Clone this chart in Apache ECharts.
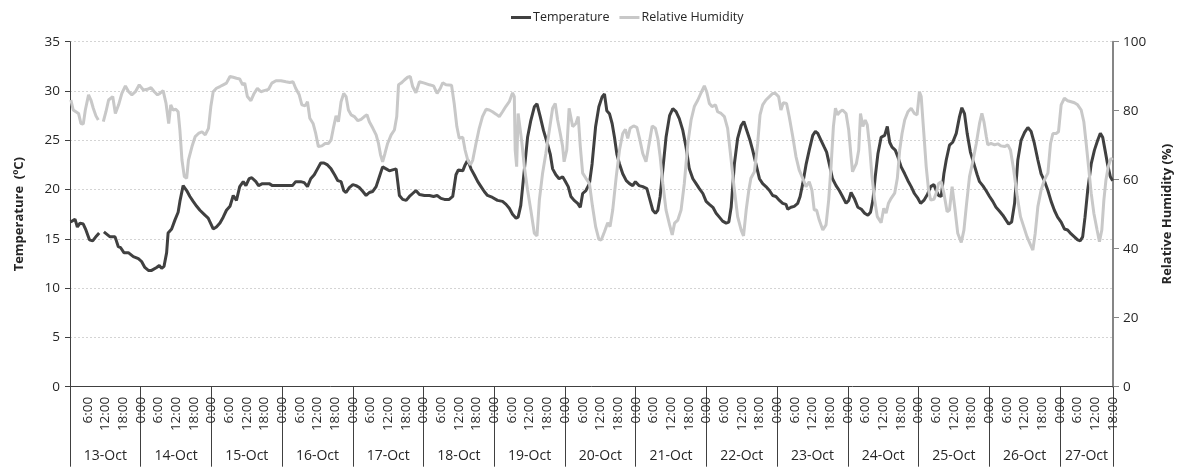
<!DOCTYPE html>
<html>
<head>
<meta charset="utf-8">
<script src="https://cdn.jsdelivr.net/npm/echarts@6/dist/echarts.min.js"></script>
<style>
html,body{margin:0;padding:0;background:#fff;}
#chart{width:1182px;height:469px;}
</style>
</head>
<body>
<div id="chart"></div>
<script>
// Dates (one per day, starting 13-Oct 0:00)
const dates = ['13-Oct','14-Oct','15-Oct','16-Oct','17-Oct','18-Oct','19-Oct','20-Oct','21-Oct','22-Oct','23-Oct','24-Oct','25-Oct','26-Oct','27-Oct'];
// Hour tick labels (hours since 13-Oct 0:00)
const hourTicks = [];
for (let h = 6; h <= 354; h += 6) hourTicks.push(h);
const dayBounds = [0,24,48,72,96,120,144,168,192,216,240,264,288,312,336,354];
const dayLabelPos = [12,36,60,84,108,132,156,180,204,228,252,276,300,324,345];

// Temperature (°C): hours since 13-Oct 0:00 and values
const tempHours = [0.2,1.7,2.5,3.4,4.5,5.4,6.6,7.7,9.0,9.9,10.7,11.5,13.6,15.3,16.4,17.2,18.3,19.8,21.5,23.2,24.3,25.4,26.6,27.7,29.4,30.3,31.1,31.9,32.8,33.3,34.5,35.6,36.7,37.3,38.4,39.6,40.7,41.8,43.0,44.1,45.8,46.9,47.7,48.6,49.7,50.9,52.0,53.1,54.3,55.4,56.5,57.6,58.8,59.7,60.8,61.7,63.1,64.0,65.3,67.6,68.7,71.0,73.2,75.5,76.6,78.3,79.5,80.6,81.7,82.9,84.0,85.1,86.2,87.4,88.6,89.8,90.9,92.0,92.9,93.7,94.8,96.0,97.1,98.2,99.4,100.5,101.6,102.7,103.9,105.0,106.1,107.3,108.4,109.5,110.7,111.8,112.9,114.1,115.2,116.3,117.4,118.6,120.3,122.0,123.4,124.6,125.9,127.1,128.7,129.9,131.0,131.8,133.3,134.1,135.0,136.1,137.2,138.4,139.5,140.6,141.7,143.4,145.1,146.8,148.0,149.1,150.2,151.4,152.1,153.0,154.2,155.3,156.4,157.6,158.5,159.6,160.7,161.9,163.0,163.8,164.9,166.0,167.2,168.0,169.1,170.0,171.1,172.3,173.2,174.0,175.1,176.3,177.2,178.4,179.5,180.6,181.4,182.2,183.1,184.0,184.8,185.6,186.5,187.6,188.8,189.9,191.0,191.9,193.1,194.4,195.8,196.7,197.8,198.7,199.5,200.3,201.2,202.3,203.5,204.6,205.7,206.8,208.0,209.1,210.2,211.4,212.5,213.6,214.8,215.9,217.0,218.2,219.3,220.4,221.5,222.7,223.6,224.4,225.5,226.6,227.8,228.7,229.7,230.8,231.7,232.8,234.0,235.1,236.2,237.4,238.5,239.6,240.8,241.9,243.0,243.6,244.7,245.8,247.0,247.8,248.7,249.8,250.9,252.1,253.0,253.8,254.9,256.0,256.8,257.7,258.8,260.0,261.1,262.2,263.4,264.3,265.1,266.2,267.4,268.6,269.7,270.8,271.7,272.5,273.3,274.2,275.3,276.5,277.4,278.2,279.0,280.1,281.0,282.1,283.3,284.4,285.5,286.6,287.8,288.7,289.8,291.0,292.1,293.2,294.0,294.8,295.7,296.6,297.4,298.5,299.6,300.8,301.9,302.7,303.6,304.5,305.6,306.8,307.9,308.7,309.8,310.9,312.1,313.2,314.3,315.5,316.6,317.7,318.6,319.6,320.6,321.7,322.8,324.0,325.1,326.2,327.3,328.5,329.6,330.7,331.9,333.0,334.1,335.2,336.4,337.5,338.6,339.8,340.9,342.0,342.9,343.7,344.5,345.4,346.6,347.7,348.8,349.7,350.5,351.3,352.2,353.1,353.9];
const tempValues = [16.7,17.0,16.2,16.6,16.5,15.9,14.9,14.8,15.3,15.6,null,15.7,15.2,15.2,14.2,14.1,13.6,13.6,13.2,13.0,12.7,12.1,11.8,11.8,12.1,12.3,12.0,12.2,13.6,15.6,16.0,16.9,17.7,18.8,20.4,19.9,19.3,18.8,18.3,17.9,17.4,17.1,16.6,16.0,16.2,16.6,17.2,17.9,18.3,19.4,18.9,20.3,20.8,20.4,21.1,21.2,20.8,20.4,20.6,20.6,20.4,20.4,20.4,20.4,20.8,20.8,20.7,20.3,21.1,21.5,22.1,22.7,22.7,22.5,22.1,21.5,20.9,20.8,19.9,19.7,20.2,20.5,20.4,20.2,19.8,19.4,19.7,19.8,20.3,21.3,22.3,22.1,21.9,22.0,22.1,19.4,19.0,18.9,19.3,19.6,19.9,19.5,19.4,19.4,19.3,19.4,19.1,19.0,19.0,19.3,21.5,22.0,21.9,22.5,23.0,22.1,21.5,20.8,20.3,19.8,19.4,19.2,18.9,18.8,18.5,18.1,17.5,17.1,17.2,18.4,22.0,25.3,27.0,28.4,28.7,27.4,26.0,24.8,23.6,22.1,21.5,21.1,21.3,20.9,20.3,19.3,18.9,18.6,18.2,19.6,19.9,20.6,22.6,26.4,28.4,29.4,29.7,28.0,27.7,26.7,25.3,23.6,22.6,21.6,20.9,20.6,20.4,20.8,20.4,20.3,20.1,19.1,17.9,17.6,17.9,19.3,22.0,25.3,27.5,28.2,27.9,27.2,26.0,24.3,22.1,21.1,20.6,20.1,19.6,18.8,18.5,18.2,17.6,17.2,16.8,16.6,16.7,18.2,22.6,25.2,26.5,26.9,26.0,25.0,24.0,22.6,21.1,20.6,20.3,19.9,19.4,19.3,18.9,18.6,18.5,18.0,18.2,18.3,18.6,19.3,20.6,22.5,24.0,25.5,25.9,25.7,25.0,24.3,23.8,22.6,21.1,20.4,19.9,19.3,18.6,18.9,19.7,19.1,18.2,18.0,17.6,17.4,17.7,18.9,21.3,23.6,25.3,25.5,26.4,24.8,24.3,24.0,23.3,22.3,21.6,20.9,20.3,19.6,19.1,18.6,18.9,19.5,20.3,20.5,19.9,19.4,19.3,21.6,23.0,24.5,24.8,25.7,27.4,28.3,27.7,25.7,23.8,22.6,21.5,20.8,20.4,19.9,19.3,18.8,18.2,17.8,17.4,16.9,16.5,16.7,18.6,23.0,25.0,25.8,26.3,25.9,24.7,23.0,21.6,20.9,19.9,18.8,17.9,17.2,16.7,16.0,15.9,15.5,15.2,14.9,14.8,15.2,17.2,19.9,22.6,24.0,25.0,25.7,25.3,24.0,22.5,21.3,20.9];

// Relative humidity (%): hours since 13-Oct 0:00 and values
const rhHours = [0.3,1.1,2.0,2.9,3.7,4.5,5.2,6.3,7.1,7.9,8.8,9.6,10.5,11.3,12.2,13.1,14.5,15.4,16.5,17.6,18.8,19.9,21.0,22.2,23.5,24.9,26.3,27.5,28.6,29.7,30.5,31.6,32.6,33.5,34.2,35.0,35.9,36.7,37.3,38.0,38.8,39.6,40.2,41.4,42.5,43.6,44.8,45.9,47.0,47.8,48.6,49.7,50.9,52.0,53.1,54.3,55.4,56.5,57.6,58.6,59.3,60.2,61.4,62.5,63.6,64.8,65.9,67.4,68.5,69.9,71.6,73.3,74.6,75.7,76.6,77.8,78.7,79.8,80.6,81.4,82.5,83.4,84.3,85.5,86.6,87.7,88.6,89.5,90.3,91.1,92.0,92.9,93.7,94.5,95.4,96.5,97.7,98.8,99.9,100.8,101.6,102.8,103.9,104.7,105.4,106.1,106.9,107.8,109.0,110.1,110.9,111.5,112.4,113.5,114.6,115.5,116.3,117.4,118.6,120.3,122.0,123.4,124.6,125.7,126.5,127.6,129.5,130.4,131.3,132.1,133.3,134.1,135.0,135.9,136.7,137.8,138.9,140.0,141.2,142.3,143.4,144.6,145.7,146.8,147.9,149.1,150.2,150.8,151.1,151.6,152.1,152.7,153.4,154.2,155.3,156.4,157.6,158.5,159.3,160.4,161.5,162.7,163.8,164.7,165.5,166.4,167.2,167.7,168.6,169.4,170.6,171.7,172.5,173.2,174.0,175.1,176.3,177.3,178.4,179.5,180.3,181.4,182.5,183.3,184.2,185.4,186.5,187.6,188.5,189.3,190.1,191.3,192.4,193.3,194.4,195.5,196.4,197.6,198.7,199.5,200.3,201.2,202.3,203.5,204.4,205.2,206.3,207.4,208.5,209.7,210.8,211.9,213.1,214.2,215.3,216.1,217.0,217.9,219.1,219.8,221.0,222.1,223.2,224.4,225.5,226.6,227.8,228.6,229.5,230.4,231.1,232.3,233.4,234.2,235.1,236.2,237.4,238.5,239.4,240.5,241.3,242.1,243.2,244.1,245.3,246.4,247.5,248.7,249.8,250.9,251.8,252.6,253.4,254.3,255.5,256.6,257.5,258.3,259.1,259.8,260.5,261.3,262.2,263.4,264.3,265.1,265.6,266.1,266.9,267.7,268.3,269.1,269.9,270.6,271.4,272.2,273.1,274.0,275.3,276.2,277.0,277.8,278.7,279.9,280.8,281.6,282.4,283.3,284.4,285.5,286.6,287.5,288.3,288.9,289.8,290.6,291.4,292.1,293.2,294.0,294.8,295.7,296.6,297.7,298.5,299.4,300.4,301.3,302.5,303.4,304.2,305.3,306.4,307.6,308.7,309.5,310.2,311.0,311.5,312.6,313.8,314.9,316.0,317.2,318.3,319.2,320.3,321.5,322.6,323.7,324.8,326.0,326.8,327.6,328.5,329.6,330.7,331.9,332.8,333.6,334.7,335.5,336.4,337.5,338.6,339.8,340.9,342.0,343.2,344.1,344.9,345.7,346.6,347.5,348.6,349.4,350.2,350.9,351.6,352.4,353.3,353.9];
const rhValues = [83.1,80.2,79.7,79.2,76.3,76.1,80.2,84.6,83.1,80.7,78.5,77.3,null,76.8,79.7,83.1,84.1,79.2,81.7,85.0,87.2,85.5,84.6,85.5,87.5,86.0,86.2,86.7,85.5,84.6,85.0,85.8,82.1,76.3,81.7,80.2,80.4,79.7,74.4,65.7,60.9,60.4,65.7,69.6,72.5,73.4,73.9,73.0,74.9,81.2,85.5,86.5,87.0,87.5,88.0,89.9,89.7,89.4,89.2,87.5,88.0,84.1,82.9,85.0,86.5,85.5,85.8,86.2,88.0,88.7,88.7,88.4,88.2,88.4,86.5,84.6,81.7,81.4,82.6,77.8,76.3,73.4,69.6,69.8,70.5,70.5,71.5,75.4,78.5,76.8,82.6,85.0,84.1,80.2,78.8,78.3,77.1,77.5,78.3,78.8,76.8,74.9,73.0,70.5,67.2,65.2,67.6,70.5,73.0,74.4,78.3,87.5,88.0,88.9,89.7,89.9,87.0,85.2,88.4,88.0,87.5,87.2,85.0,86.5,88.1,87.5,87.4,82.1,75.4,72.0,72.3,68.6,65.7,64.3,65.7,70.5,74.9,78.3,80.4,80.2,79.7,79.0,78.3,79.7,81.2,82.6,85.2,84.1,68.6,63.8,79.2,79.7,70.5,63.8,57.0,51.2,44.5,43.7,54.1,61.9,67.6,74.4,80.7,82.1,77.3,73.4,69.6,65.2,68.6,80.7,75.4,76.3,78.3,69.6,61.9,60.4,58.9,52.5,46.4,42.7,42.5,44.9,47.5,46.4,51.2,60.9,68.6,73.4,74.6,72.0,74.9,75.6,75.2,72.0,67.6,65.2,69.6,75.6,74.9,72.0,66.7,58.9,51.2,46.9,44.0,47.4,48.3,51.2,58.9,70.5,77.3,81.2,83.1,85.2,87.2,85.5,82.1,81.2,81.7,79.7,79.2,78.3,74.9,65.7,57.0,49.3,45.4,43.7,51.2,57.0,60.4,62.3,70.5,78.8,81.7,83.1,84.1,85.0,85.0,84.1,80.2,82.3,82.1,78.3,72.5,66.7,62.8,60.4,58.0,59.4,57.0,51.2,51.2,48.3,45.4,46.9,54.1,63.8,75.4,80.7,78.8,79.7,80.2,79.2,74.4,66.7,62.3,63.3,64.7,68.6,79.2,75.4,77.3,75.9,69.6,60.9,54.1,49.3,47.5,51.7,50.3,53.2,54.6,56.1,60.4,68.6,73.4,77.3,79.7,80.7,79.2,78.8,85.5,84.1,73.4,63.8,57.0,54.1,54.3,56.1,58.9,59.4,56.1,50.7,51.2,58.0,51.2,44.5,41.8,45.4,52.2,60.9,65.2,70.5,76.3,79.2,76.8,72.5,70.1,70.5,70.1,70.4,69.8,69.6,70.1,68.6,62.8,55.1,49.3,46.4,43.5,41.1,39.6,44.5,52.2,57.0,59.9,61.9,70.5,73.4,73.4,73.9,81.7,83.6,82.9,82.6,82.3,81.7,80.2,76.8,70.5,63.8,56.1,50.3,45.4,42.0,45.4,54.1,59.9,63.8,66.2,65.7];

const zip = (xs, ys) => xs.map((x, i) => [x, ys[i] === null ? '-' : ys[i]]);

const FONT = '"Open Sans", "Liberation Sans", sans-serif';

const chart = echarts.init(document.getElementById('chart'), null, {renderer: 'canvas'});
chart.setOption({
  animation: false,
  backgroundColor: '#ffffff',
  textStyle: {fontFamily: FONT},
  legend: {
    top: 6,
    left: 506,
    itemGap: 10,
    icon: 'rect',
    itemWidth: 20,
    itemHeight: 3,
    textStyle: {fontFamily: FONT, fontSize: 12.5, color: '#262626', padding: [0, 0, 0, -3]},
    data: ['Temperature', 'Relative Humidity']
  },
  grid: {left: 70, right: 68, top: 41.7, bottom: 82.3, containLabel: false},
  xAxis: [
    {
      type: 'value', min: 0, max: 354, position: 'bottom',
      splitLine: {show: false},
      axisLine: {show: true, onZero: false, lineStyle: {color: '#404040', width: 1}},
      axisTick: {show: true, customValues: dayBounds, length: 80, lineStyle: {color: '#404040', width: 1}},
      axisLabel: {
        customValues: hourTicks, rotate: 90, margin: 10,
        fontFamily: FONT, fontSize: 13.5, color: '#262626',
        formatter: v => (Math.round(v) % 24) + ':00'
      }
    },
    {
      type: 'value', min: 0, max: 354, position: 'bottom', offset: 0,
      splitLine: {show: false},
      axisLine: {show: false, onZero: false},
      axisTick: {show: false},
      axisLabel: {
        customValues: dayLabelPos, margin: 62,
        fontFamily: FONT, fontSize: 14, color: '#262626',
        formatter: v => dates[Math.min(dates.length - 1, Math.floor(v / 24))]
      }
    }
  ],
  yAxis: [
    {
      type: 'value', min: 0, max: 35, interval: 5, position: 'left',
      name: 'Temperature  (ºC)', nameLocation: 'middle', nameGap: 44,
      nameTextStyle: {fontFamily: FONT, fontSize: 13, fontWeight: 'bold', color: '#262626'},
      axisLine: {show: true, onZero: false, lineStyle: {color: '#404040', width: 1}},
      axisTick: {show: true, length: 5, lineStyle: {color: '#404040'}},
      axisLabel: {fontFamily: FONT, fontSize: 13.5, color: '#262626', margin: 10},
      splitLine: {show: true, lineStyle: {color: '#d4d4d4', type: [2, 2], width: 1}}
    },
    {
      type: 'value', min: 0, max: 100, interval: 20, position: 'right',
      name: 'Relative Humidity (%)', nameLocation: 'middle', nameGap: 48,
      nameTextStyle: {fontFamily: FONT, fontSize: 13, fontWeight: 'bold', color: '#262626'},
      axisLine: {show: true, onZero: false, lineStyle: {color: '#868686', width: 2}},
      axisTick: {show: true, length: 6, lineStyle: {color: '#868686'}},
      axisLabel: {fontFamily: FONT, fontSize: 13.5, color: '#262626', margin: 10},
      splitLine: {show: false}
    }
  ],
  series: [
    {
      name: 'Temperature', type: 'line', xAxisIndex: 0, yAxisIndex: 0,
      data: zip(tempHours, tempValues),
      showSymbol: false, symbol: 'none', connectNulls: false,
      lineStyle: {color: '#404040', width: 3},
      itemStyle: {color: '#404040'},
      z: 2
    },
    {
      name: 'Relative Humidity', type: 'line', xAxisIndex: 0, yAxisIndex: 1,
      data: zip(rhHours, rhValues),
      showSymbol: false, symbol: 'none', connectNulls: false,
      lineStyle: {color: '#c8c8c8', width: 3},
      itemStyle: {color: '#c8c8c8'},
      z: 3
    }
  ]
});
</script>
</body>
</html>
